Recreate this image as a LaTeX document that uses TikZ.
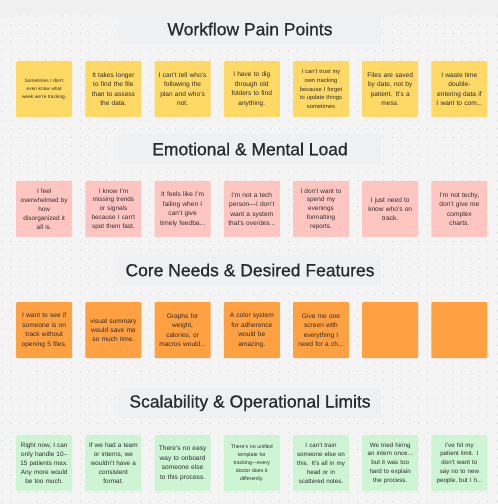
\documentclass[tikz,border=0pt]{standalone}
\usepackage{fontspec}
\setmainfont{Liberation Sans}
\newfontfamily\titlefont[FakeBold=0.8]{Liberation Sans}
\usetikzlibrary{positioning}
\definecolor{boardgray}{HTML}{F4F4F4}
\definecolor{stripgray}{HTML}{F0F0F0}
\definecolor{bannergray}{HTML}{EFF0F2}
\definecolor{dotgray}{HTML}{CDCDCD}
\definecolor{inkgray}{HTML}{2E2E2E}
\definecolor{titlegray}{HTML}{2B2B2D}
\definecolor{stickyyellow}{HTML}{FFD966}
\definecolor{stickypink}{HTML}{FFC6C1}
\definecolor{stickyorange}{HTML}{FFA042}
\definecolor{stickygreen}{HTML}{CDF4D3}
\tikzset{
    note/.style={rectangle, rounded corners=1pt, minimum width=56pt, minimum height=56pt, text width=53pt, inner sep=0pt, align=center, text=inkgray, font=\fontsize{6.6}{9.4}\selectfont},
    yellownote/.style={note, fill=stickyyellow},
    pinknote/.style={note, fill=stickypink},
    orangenote/.style={note, fill=stickyorange},
    greennote/.style={note, fill=stickygreen},
    banner/.style={rectangle, fill=bannergray, minimum width=262pt, minimum height=30pt, inner sep=0pt, text=titlegray, font=\titlefont\fontsize{17.5}{20}\selectfont},
    tiny/.style={font=\fontsize{4.8}{7.6}\selectfont}
}
\begin{document}
\begin{tikzpicture}[x=1pt, y=-1pt, node distance=12.8pt]
    \useasboundingbox (0,0) rectangle (498,504);
    \fill[boardgray] (0,0) rectangle (498,504);
    \fill[stripgray] (0,0) rectangle (498,15);
    % dotted board
    \foreach \i in {0,...,57}
        \foreach \j in {0,...,56}
            \fill[dotgray] (2.3+8.67*\i, 16+8.67*\j) circle (0.55pt);

    % Workflow Pain Points
    \node[banner] (wftitle) at (250,29) {Workflow Pain Points};
    \node[yellownote, tiny, anchor=north west] (wf1) at (16,61) {Sometimes I don't\\even know what\\week we're tracking.};
    \node[yellownote, right=of wf1] (wf2) {It takes longer\\to find the file\\than to assess\\the data.};
    \node[yellownote, right=of wf2] (wf3) {I can't tell who's\\following the\\plan and who's\\not.};
    \node[yellownote, right=of wf3] (wf4) {I have to dig\\through old\\folders to find\\anything.};
    \node[yellownote, right=of wf4, font=\fontsize{5.8}{8.6}\selectfont] (wf5) {I can't trust my\\own tracking\\because I forget\\to update things\\sometimes};
    \node[yellownote, right=of wf5] (wf6) {Files are saved\\by date, not by\\patient. It's a\\mess.};
    \node[yellownote, right=of wf6] (wf7) {I waste time\\double-\\entering data if\\I want to com...};

    % Emotional & Mental Load
    \node[banner] (emotitle) at (250,149) {Emotional \& Mental Load};
    \node[pinknote, anchor=north west, font=\fontsize{6.4}{8.9}\selectfont] (emo1) at (16,181) {I feel\\overwhelmed by\\how\\disorganized it\\all is.};
    \node[pinknote, right=of emo1, font=\fontsize{6.4}{8.9}\selectfont] (emo2) {I know I'm\\missing trends\\or signals\\because I can't\\spot them fast.};
    \node[pinknote, right=of emo2] (emo3) {It feels like I'm\\failing when I\\can't give\\timely feedba...};
    \node[pinknote, right=of emo3] (emo4) {I'm not a tech\\person---I don't\\want a system\\that's overdes...};
    \node[pinknote, right=of emo4, font=\fontsize{6.4}{8.9}\selectfont] (emo5) {I don't want to\\spend my\\evenings\\formatting\\reports.};
    \node[pinknote, right=of emo5] (emo6) {I just need to\\know who's on\\track.};
    \node[pinknote, right=of emo6] (emo7) {I'm not techy,\\don't give me\\complex\\charts.};

    % Core Needs & Desired Features
    \node[banner] (needtitle) at (250,270) {Core Needs \& Desired Features};
    \node[orangenote, anchor=north west] (need1) at (16,302) {I want to see if\\someone is on\\track without\\opening 5 files.};
    \node[orangenote, right=of need1] (need2) {visual summary\\would save me\\so much time.};
    \node[orangenote, right=of need2] (need3) {Graphs for\\weight,\\calories, or\\macros would...};
    \node[orangenote, right=of need3] (need4) {A color system\\for adherence\\would be\\amazing.};
    \node[orangenote, right=of need4] (need5) {Give me one\\screen with\\everything I\\need for a ch...};
    \node[orangenote, right=of need5] (need6) {};
    \node[orangenote, right=of need6] (need7) {};

    % Scalability & Operational Limits
    \node[banner] (scaletitle) at (250,403) {Scalability \& Operational Limits};
    \node[greennote, anchor=north west, font=\fontsize{6.4}{8.9}\selectfont] (scale1) at (16,435) {Right now, I can\\only handle 10--\\15 patients max.\\Any more would\\be too much.};
    \node[greennote, right=of scale1, font=\fontsize{6.4}{8.9}\selectfont] (scale2) {If we had a team\\or interns, we\\wouldn't have a\\consistent\\format.};
    \node[greennote, right=of scale2] (scale3) {There's no easy\\way to onboard\\someone else\\to this process.};
    \node[greennote, right=of scale3, font=\fontsize{5.2}{8}\selectfont] (scale4) {There's no unified\\template for\\tracking---every\\doctor does it\\differently.};
    \node[greennote, right=of scale4, font=\fontsize{6.2}{8.9}\selectfont] (scale5) {I can't train\\someone else on\\this. It's all in my\\head or in\\scattered notes.};
    \node[greennote, right=of scale5, font=\fontsize{6.2}{8.9}\selectfont] (scale6) {We tried hiring\\an intern once...\\but it was too\\hard to explain\\the process.};
    \node[greennote, right=of scale6, font=\fontsize{6.2}{8.9}\selectfont] (scale7) {I've hit my\\patient limit. I\\don't want to\\say no to new\\people, but I h...};
\end{tikzpicture}
\end{document}
